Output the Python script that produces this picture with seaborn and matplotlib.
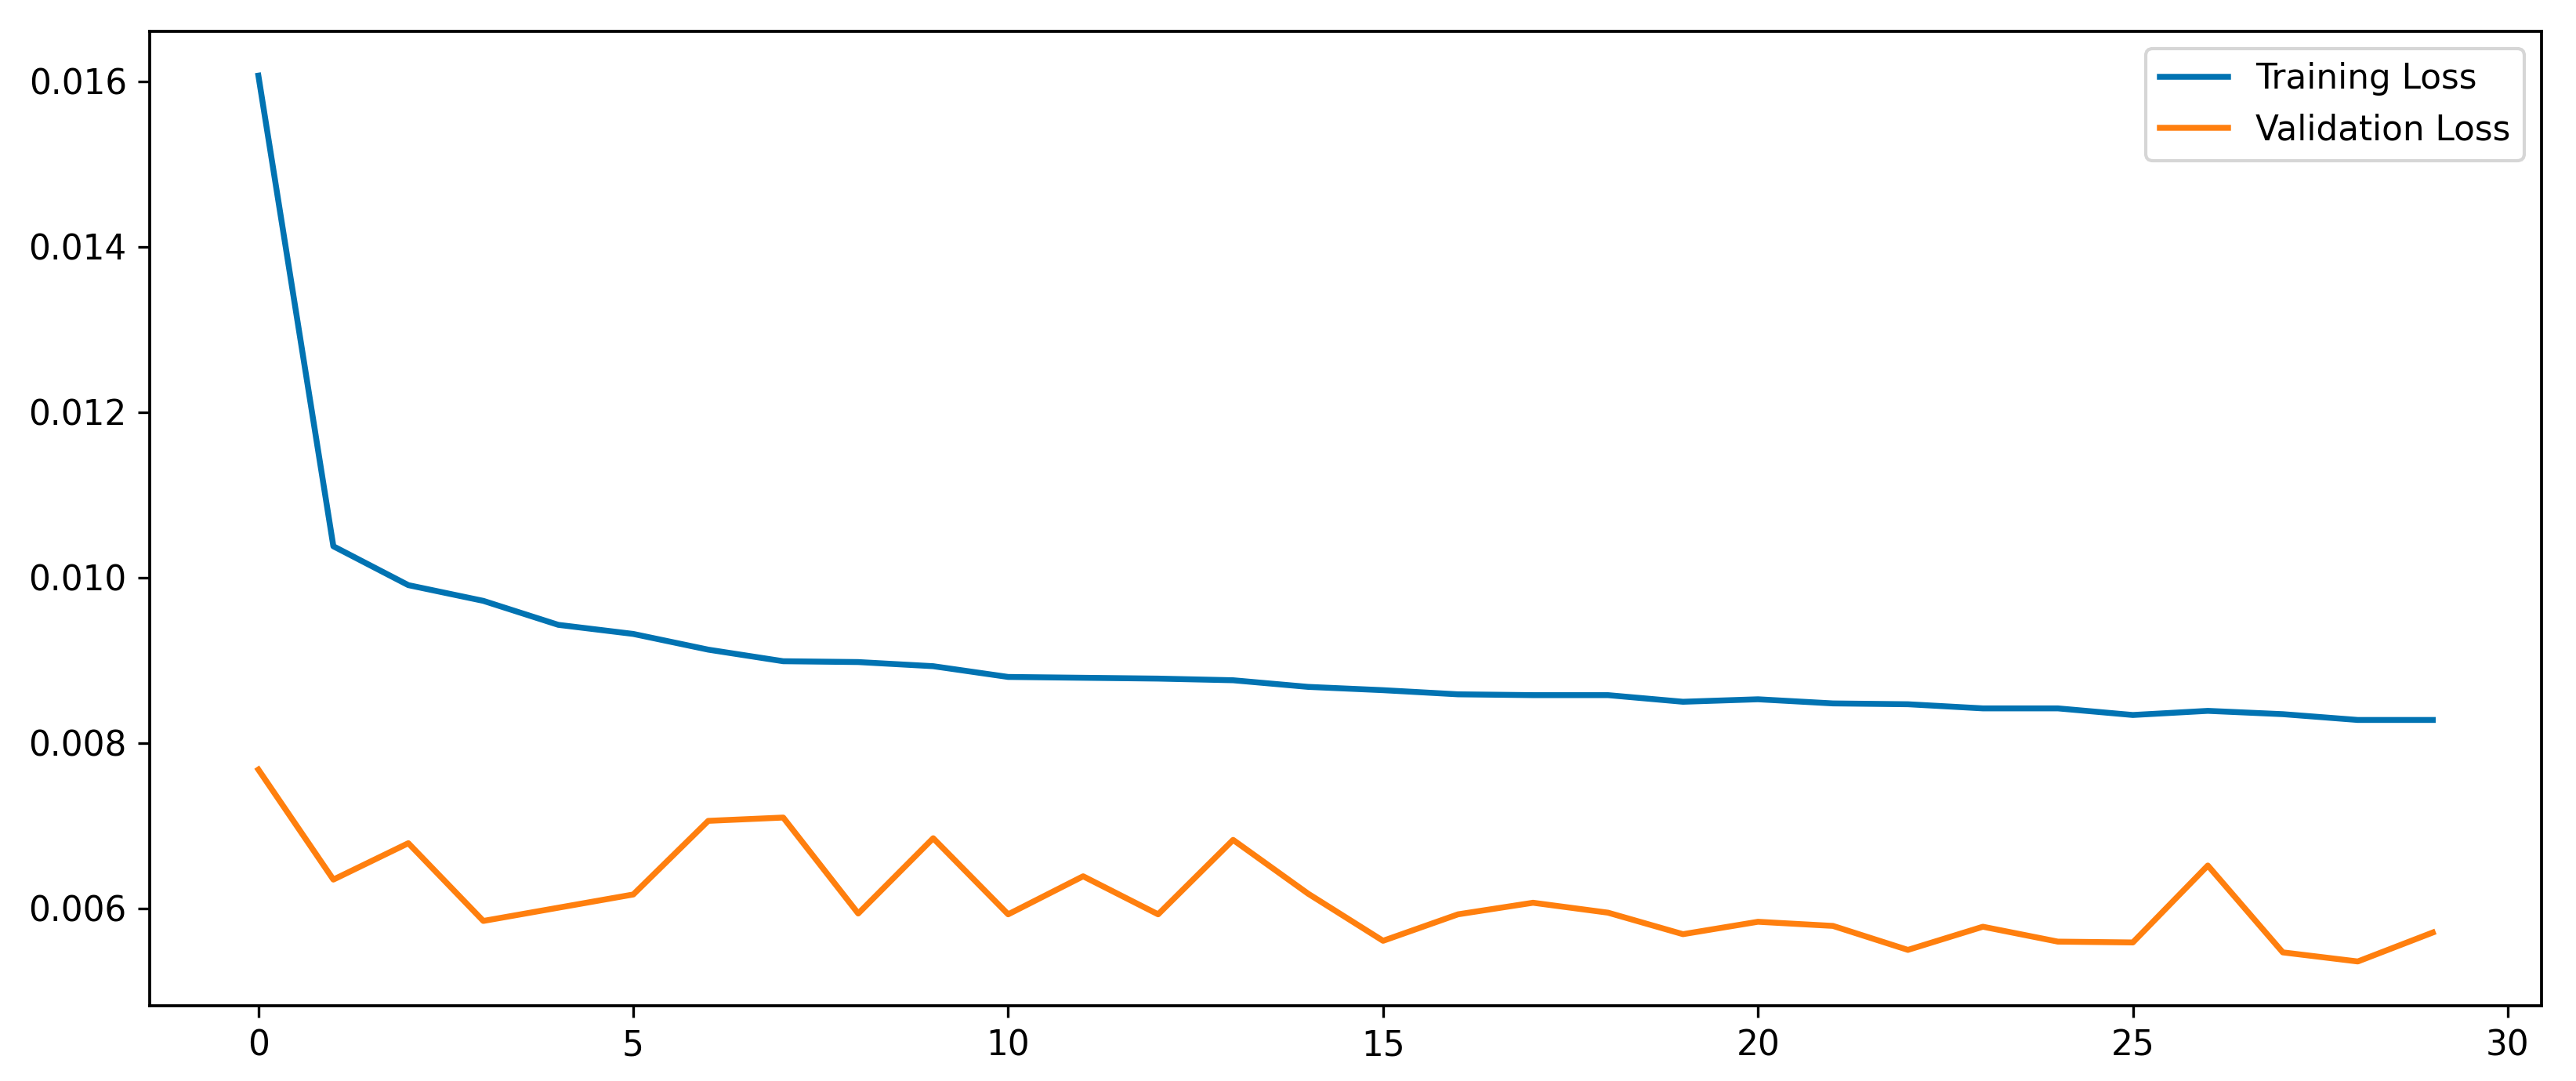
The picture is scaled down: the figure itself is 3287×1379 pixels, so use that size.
import matplotlib
matplotlib.use("Agg")
import matplotlib.pyplot as plt
import seaborn as sns
import pandas as pd

epochs = list(range(30))
training_loss = [0.01607, 0.01038, 0.00991, 0.00972, 0.00943, 0.00932, 0.00913, 0.00899, 0.00898, 0.00893,
                 0.00880, 0.00879, 0.00878, 0.00876, 0.00868, 0.00864, 0.00859, 0.00858, 0.00858, 0.00850,
                 0.00853, 0.00848, 0.00847, 0.00842, 0.00842, 0.00834, 0.00839, 0.00835, 0.00828, 0.00828]
validation_loss = [0.00768, 0.00635, 0.00679, 0.00585, 0.00601, 0.00617, 0.00706, 0.00710, 0.00594, 0.00685,
                   0.00593, 0.00639, 0.00593, 0.00683, 0.00618, 0.00561, 0.00593, 0.00607, 0.00595, 0.00569,
                   0.00584, 0.00579, 0.00550, 0.00578, 0.00560, 0.00559, 0.00652, 0.00547, 0.00536, 0.00571]
series_names = ["Training Loss", "Validation Loss"]
colors = ["#0173B2", "#FF7F0E"]

df = pd.DataFrame({
    "epoch": epochs * 2,
    "loss": training_loss + validation_loss,
    "series": [series_names[0]] * len(epochs) + [series_names[1]] * len(epochs),
})

plt.rcParams["font.family"] = ["DejaVu Sans"]
plt.rcParams["font.size"] = 10.5

fig = plt.figure(figsize=(3287 / 300, 1379 / 300), dpi=300)
ax = fig.add_axes([0.0581, 0.0696, 0.9285, 0.9014])
sns.lineplot(data=df, x="epoch", y="loss", hue="series", palette=dict(zip(series_names, colors)),
             linewidth=1.8, ax=ax, legend=True)
ax.set_xlabel("")
ax.set_ylabel("")
ax.set_xticks([0, 5, 10, 15, 20, 25, 30])
ax.set_yticks([0.006, 0.008, 0.010, 0.012, 0.014, 0.016])
ax.set_yticklabels(["0.006", "0.008", "0.010", "0.012", "0.014", "0.016"])
ax.tick_params(labelsize=10.5)
leg = ax.legend(loc="upper right", fontsize=10.5, frameon=True)
for sp in ax.spines.values():
    sp.set_linewidth(0.9)
fig.savefig("out.png", dpi=300)
